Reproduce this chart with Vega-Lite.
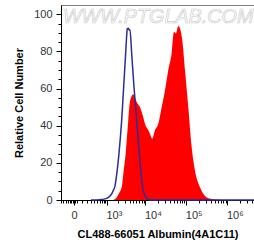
{
  "$schema": "https://vega.github.io/schema/vega-lite/v6.json",
  "width": 193,
  "height": 195,
  "autosize": {"type": "none"},
  "padding": {"left": 61, "top": 5, "right": 0, "bottom": 49},
  "background": "white",
  "config": {
    "font": "Liberation Sans",
    "view": {"stroke": "#808080", "strokeWidth": 1},
    "axis": {
      "domainColor": "black",
      "tickColor": "black",
      "labelColor": "#333333",
      "labelFontSize": 11,
      "titleFontSize": 11,
      "titleFontWeight": "bold",
      "titleColor": "black",
      "grid": false,
      "labelOverlap": false,
      "labelBound": false,
      "labelFlush": false
    }
  },
  "datasets": {
    "red": [
      {"x": 1475, "y": 0}, {"x": 1856, "y": 1.4}, {"x": 2201, "y": 4}, {"x": 2516, "y": 6.8},
      {"x": 2835, "y": 15.8}, {"x": 3192, "y": 25}, {"x": 3446, "y": 34}, {"x": 3722, "y": 43},
      {"x": 4038, "y": 52}, {"x": 4357, "y": 55}, {"x": 4982, "y": 57}, {"x": 5497, "y": 55},
      {"x": 6063, "y": 52.8}, {"x": 7331, "y": 50}, {"x": 8851, "y": 44.6}, {"x": 9754, "y": 41},
      {"x": 11769, "y": 37.5}, {"x": 13000, "y": 35.5}, {"x": 14764, "y": 33}, {"x": 17196, "y": 37.5},
      {"x": 20718, "y": 41}, {"x": 25098, "y": 50}, {"x": 30212, "y": 59}, {"x": 36378, "y": 70},
      {"x": 44030, "y": 79}, {"x": 50102, "y": 90.6}, {"x": 56043, "y": 89.7}, {"x": 63751, "y": 93.7},
      {"x": 70124, "y": 92.4}, {"x": 79770, "y": 86}, {"x": 92797, "y": 70}, {"x": 111634, "y": 50},
      {"x": 135059, "y": 28.4}, {"x": 162394, "y": 15.8}, {"x": 214846, "y": 6.8}, {"x": 312456, "y": 1.4},
      {"x": 546516, "y": 0.2}, {"x": 1000000, "y": 0}
    ],
    "blue": [
      {"x": 300, "y": 0}, {"x": 616, "y": 0.2}, {"x": 875, "y": 0.6}, {"x": 1069, "y": 1.3},
      {"x": 1218, "y": 2.2}, {"x": 1384, "y": 3.6}, {"x": 1475, "y": 4.8}, {"x": 1671, "y": 7.5},
      {"x": 1891, "y": 15}, {"x": 2137, "y": 25}, {"x": 2516, "y": 43}, {"x": 2835, "y": 61},
      {"x": 3192, "y": 79}, {"x": 3400, "y": 89}, {"x": 3510, "y": 92.3}, {"x": 3722, "y": 92.5},
      {"x": 3900, "y": 91.5}, {"x": 4110, "y": 91.8}, {"x": 4540, "y": 79}, {"x": 5189, "y": 61},
      {"x": 6063, "y": 43}, {"x": 7042, "y": 25}, {"x": 8556, "y": 6.8}, {"x": 9754, "y": 2.3},
      {"x": 10931, "y": 0.7}, {"x": 12961, "y": 0}, {"x": 4400000, "y": 0}
    ],
    "mark": [{"x": -160, "y": 98.5, "t": "WWW.PTGLAB.COM"}]
  },
  "encoding": {
    "x": {
      "field": "x", "type": "quantitative",
      "scale": {"type": "symlog", "constant": 188, "domain": [-200, 4400000], "nice": false, "zero": false},
      "axis": {
        "title": "CL488-66051 Albumin(4A1C11)",
        "titlePadding": 8,
        "values": [-200, -150, -100, -70, -50, -30, -15, 0, 15, 30, 100, 200, 300, 400, 500, 600, 700, 800, 900, 1000, 2000, 3000, 4000, 5000, 6000, 7000, 8000, 9000, 10000, 20000, 30000, 40000, 50000, 60000, 70000, 80000, 90000, 100000, 200000, 300000, 400000, 500000, 600000, 700000, 800000, 900000, 1000000, 2000000, 3000000, 4000000],
        "labelExpr": "datum.value === 0 ? '0' : datum.value === 1000 ? '10³' : datum.value === 10000 ? '10⁴' : datum.value === 100000 ? '10⁵' : datum.value === 1000000 ? '10⁶' : ''",
        "labelAlign": {"condition": {"test": "datum.value === 0", "value": "center"}, "value": "left"},
        "labelOffset": {"condition": {"test": "datum.value === 0", "value": 0}, "value": -1},
        "labelPadding": 4,
        "tickSize": {"condition": {"test": "datum.value === 0 || datum.value === 1000 || datum.value === 10000 || datum.value === 100000 || datum.value === 1000000", "value": 5}, "value": 3}
      }
    },
    "y": {
      "field": "y", "type": "quantitative",
      "scale": {"domain": [0, 105], "nice": false},
      "axis": {
        "title": "Relative Cell Number",
        "titlePadding": 9,
        "values": [0, 5, 10, 15, 20, 25, 30, 35, 40, 45, 50, 55, 60, 65, 70, 75, 80, 85, 90, 95, 100],
        "labelExpr": "datum.value % 20 === 0 ? datum.value : ''",
        "labelPadding": 4,
        "tickSize": {"condition": {"test": "datum.value % 20 === 0", "value": 5}, "value": 3}
      }
    }
  },
  "layer": [
    {
      "data": {"name": "mark"},
      "mark": {"type": "text", "align": "left", "baseline": "middle", "fontSize": 19.8, "fontStyle": "italic", "fill": "white", "stroke": "#cdcdcd", "strokeWidth": 0.7},
      "encoding": {"text": {"field": "t"}}
    },
    {
      "data": {"name": "red"},
      "mark": {"type": "area", "color": "#ff0000", "interpolate": "monotone"}
    },
    {
      "data": {"name": "blue"},
      "mark": {"type": "line", "color": "#2c2c9c", "strokeWidth": 1.5, "interpolate": "monotone"}
    }
  ]
}
